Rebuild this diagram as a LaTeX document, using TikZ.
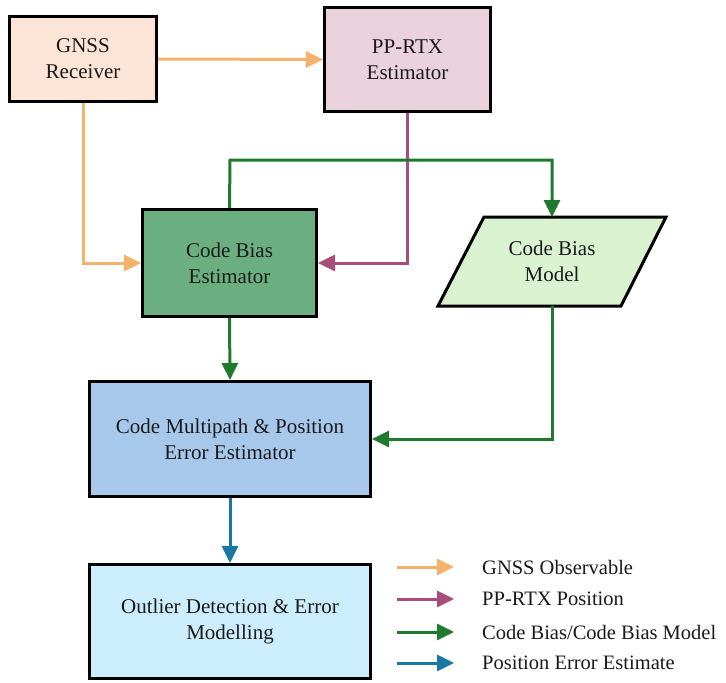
\documentclass[tikz,border=0pt]{standalone}
\usepackage{fontspec}
\setmainfont{Liberation Serif}
\newfontfamily\boxfont{Liberation Serif}
\usetikzlibrary{arrows.meta}
\definecolor{fillrecv}{HTML}{FCE4D6}
\definecolor{fillrtx}{HTML}{EAD1DC}
\definecolor{fillcbe}{HTML}{6BAE80}
\definecolor{fillmodel}{HTML}{D9F2D0}
\definecolor{fillcmpe}{HTML}{A7C8EB}
\definecolor{fillodem}{HTML}{CCEEFC}
\definecolor{obsline}{HTML}{F6B26B}
\definecolor{posline}{HTML}{A64D79}
\definecolor{biasline}{HTML}{1F7A2E}
\definecolor{errline}{HTML}{1779A3}
\definecolor{txt}{HTML}{1A1A1A}
\begin{document}
\begin{tikzpicture}[x=1pt,y=-1pt,
  blk/.style={draw=black,line width=3pt,inner sep=0pt,align=center,text=txt,
    font=\boxfont\fontsize{21}{26}\selectfont},
  flow/.style={line width=3pt,-{Triangle[length=17pt,width=16pt]}},
  legtext/.style={anchor=west,inner sep=0pt,text=txt,font=\boxfont\fontsize{20.5}{25}\selectfont}]
\useasboundingbox (0,0) rectangle (726,683);

% processing blocks
\node[blk,fill=fillrecv,minimum width=147pt,minimum height=85pt] (gnss) at (83,59) {GNSS\\Receiver};
\node[blk,fill=fillrtx,minimum width=166pt,minimum height=104pt] (rtx) at (407.5,59.5) {PP-RTX\\Estimator};
\node[blk,fill=fillcbe,minimum width=174pt,minimum height=107pt] (cbe) at (229.5,263) {Code Bias\\Estimator};
\node[blk,fill=fillcmpe,minimum width=281pt,minimum height=115pt] (cmpe) at (230,439) {Code Multipath \& Position\\Error Estimator};
\node[blk,fill=fillodem,minimum width=281pt,minimum height=114pt] (odem) at (230,621.5) {Outlier Detection \& Error\\Modelling};

% code bias model (parallelogram)
\draw[line width=3pt,fill=fillmodel,line join=miter] (484,217) -- (666,217) -- (621,306) -- (438,306) -- cycle;
\node[align=center,text=txt,font=\boxfont\fontsize{21}{26}\selectfont] (model) at (552,261.5) {Code Bias\\Model};
\coordinate (modeltop) at (552,217);
\coordinate (modelbot) at (552,306);

% connectors
\draw[flow,obsline] (gnss.east) -- (rtx.west);
\draw[flow,obsline] (gnss.south) |- (cbe.west);
\draw[flow,posline] (rtx.south) |- (cbe.east);
\coordinate (bend) at (230,160);
\draw[flow,biasline] (cbe.north) -- (bend) -| (modeltop);
\draw[flow,biasline] (cbe.south) -- (cmpe.north);
\draw[flow,biasline] (modelbot) |- (cmpe.east);
\draw[flow,errline] (cmpe.south) -- (odem.north);

% legend
\foreach \i/\y/\c in {1/567/obsline,2/599/posline,3/632/biasline,4/663/errline}{
  \coordinate (la\i) at (397,\y);
  \coordinate (lb\i) at (454,\y);
  \draw[flow,\c] (la\i) -- (lb\i);
}
\node[legtext] (t1) at (482,567) {GNSS Observable};
\node[legtext] (t2) at (482,599) {PP-RTX Position};
\node[legtext] (t3) at (482,632) {Code Bias/Code Bias Model};
\node[legtext] (t4) at (482,663) {Position Error Estimate};
\end{tikzpicture}
\end{document}
